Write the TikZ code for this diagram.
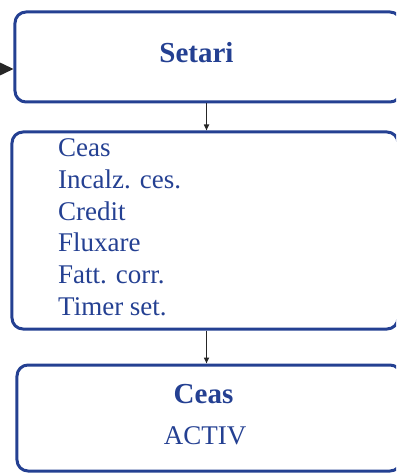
\documentclass[tikz,border=0pt]{standalone}
\usepackage{fontspec}
\setmainfont{Liberation Serif}
\usetikzlibrary{arrows.meta}
\definecolor{menublue}{RGB}{36,64,146}
\tikzset{
  panel/.style={draw=menublue,line width=3bp,rounded corners=11bp,
    minimum width=#1,inner sep=0pt},
  title/.style={text=menublue,font=\fontsize{29bp}{32bp}\selectfont\bfseries,
    anchor=base,inner sep=0pt},
  entry/.style={text=menublue,font=\fontsize{27bp}{32bp}\selectfont,
    anchor=base west,inner sep=0pt},
  flow/.style={-{Triangle[length=6bp,width=5bp]},line width=1.5bp,black!85}
}
\begin{document}
\begin{tikzpicture}[x=1bp,y=-1bp]
  \useasboundingbox (0,0) rectangle (396,473);
  \clip (0,0) rectangle (396,473);
  % Boxes
  \node[panel=386bp,minimum height=90bp] (setari) at (208,57) {};
  \node[panel=386bp,minimum height=197bp] (lista) at (205,230.5) {};
  \node[panel=384bp,minimum height=106bp] (ceas) at (209,418) {};
  % Labels
  \node[title] (tsetari) at (196.5,63) {Setari};
  \foreach \t [count=\i] in {Ceas,Incalz. ces.,Credit,Fluxare,Fatt. corr.,Timer set.}
    \node[entry] (l\i) at (58,125+31.7*\i) {\t};
  \node[title] (tceas) at (203.5,403) {Ceas};
  \node[entry,anchor=base] (tactiv) at (205,444) {ACTIV};
  % Arrows
  \coordinate (axis) at (206.5,0);
  \coordinate (in) at (-20,69);
  \draw[-{Triangle[length=15bp,width=14bp]},line width=1.4bp,black!85]
    (in) -- (in -| setari.west);
  \draw[flow] (setari.south -| axis) -- (lista.north -| axis);
  \draw[flow] (lista.south -| axis) -- (ceas.north -| axis);
\end{tikzpicture}
\end{document}
